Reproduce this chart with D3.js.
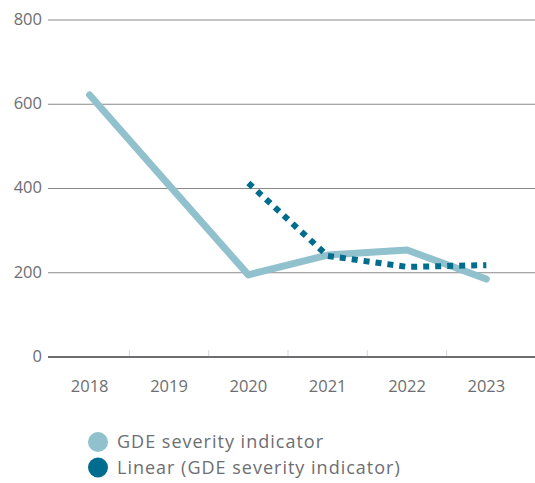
<!DOCTYPE html>
<html>
<head>
<meta charset="utf-8">
<script src="https://cdn.jsdelivr.net/npm/d3@7"></script>
<style>
  body { margin: 0; background: #fff; }
  text { font-family: "Open Sans", Lato, sans-serif; fill: #6d6e71; }
</style>
</head>
<body>
<div id="chart"></div>
<script>
var years = ["2018", "2019", "2020", "2021", "2022", "2023"];
var severity = [622, 408, 195, 242, 254, 185];
var trendYears = ["2020", "2021", "2022", "2023"];
var trend = [413, 240, 214, 218];
var yTicks = [0, 200, 400, 600, 800];
var seriesNames = ["GDE severity indicator", "Linear (GDE severity indicator)"];
var colors = ["#92c1ce", "#006d8f"];

var width = 535, height = 483;
var svg = d3.select("#chart").append("svg")
    .attr("width", width)
    .attr("height", height);

var x = d3.scaleBand()
    .domain(years)
    .range([50, 526]);

var y = d3.scaleLinear()
    .domain([0, 800])
    .range([357, 20]);

// gridlines
svg.selectAll(".grid")
    .data(yTicks.filter(function(d){ return d > 0; }))
    .enter().append("line")
    .attr("class", "grid")
    .attr("x1", 48)
    .attr("x2", width)
    .attr("y1", function(d){ return y(d); })
    .attr("y2", function(d){ return y(d); })
    .attr("stroke", "#8a8a8a")
    .attr("stroke-width", 1);

// y labels
svg.selectAll(".ylab")
    .data(yTicks)
    .enter().append("text")
    .attr("class", "ylab")
    .attr("x", 42)
    .attr("y", function(d){ return y(d); })
    .attr("dy", "0.3em")
    .attr("text-anchor", "end")
    .style("font-size", "16.5px")
    .text(function(d){ return d; });

// category boundary ticks
svg.selectAll(".xtick")
    .data(years.slice(1))
    .enter().append("line")
    .attr("class", "xtick")
    .attr("x1", function(d){ return x(d); })
    .attr("x2", function(d){ return x(d); })
    .attr("y1", y(0) - 7)
    .attr("y2", y(0))
    .attr("stroke", "#d9d9d9")
    .attr("stroke-width", 1);

// baseline
svg.append("line")
    .attr("x1", 48)
    .attr("x2", width)
    .attr("y1", y(0))
    .attr("y2", y(0))
    .attr("stroke", "#6d6e71")
    .attr("stroke-width", 2);

// x labels
svg.selectAll(".xlab")
    .data(years)
    .enter().append("text")
    .attr("class", "xlab")
    .attr("x", function(d){ return x(d) + x.bandwidth() / 2; })
    .attr("y", 392)
    .attr("text-anchor", "middle")
    .style("font-size", "16.5px")
    .text(function(d){ return d; });

var line = d3.line()
    .x(function(d){ return x(d[0]) + x.bandwidth() / 2; })
    .y(function(d){ return y(d[1]); });

svg.append("path")
    .datum(d3.zip(years, severity))
    .attr("d", line)
    .attr("fill", "none")
    .attr("stroke", colors[0])
    .attr("stroke-width", 7)
    .attr("stroke-linecap", "round")
    .attr("stroke-linejoin", "round");

svg.append("path")
    .datum(d3.zip(trendYears, trend))
    .attr("d", line)
    .attr("fill", "none")
    .attr("stroke", colors[1])
    .attr("stroke-width", 6)
    .attr("stroke-dasharray", "6,6");

// legend
var legend = svg.selectAll(".legend")
    .data(seriesNames)
    .enter().append("g")
    .attr("class", "legend")
    .attr("transform", function(d, i){ return "translate(98," + (442 + i * 25.5) + ")"; });

legend.append("circle")
    .attr("r", 10)
    .attr("fill", function(d, i){ return colors[i]; });

legend.append("text")
    .attr("x", 19)
    .attr("dy", "0.36em")
    .style("font-size", "18px")
    .style("font-weight", "500")
    .style("letter-spacing", "1px")
    .text(function(d){ return d; });
</script>
</body>
</html>
